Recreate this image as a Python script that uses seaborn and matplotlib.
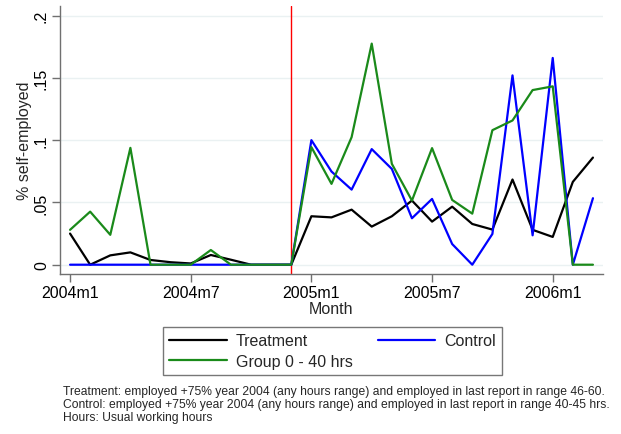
import matplotlib
matplotlib.use("Agg")
import matplotlib.pyplot as plt
import seaborn as sns
import pandas as pd
import numpy as np
from matplotlib.lines import Line2D

months = ["2004m1","2004m2","2004m3","2004m4","2004m5","2004m6","2004m7","2004m8","2004m9",
          "2004m10","2004m11","2004m12","2005m1","2005m2","2005m3","2005m4","2005m5","2005m6",
          "2005m7","2005m8","2005m9","2005m10","2005m11","2005m12","2006m1","2006m2","2006m3"]
treatment = [0.025, 0.0, 0.0075, 0.0099, 0.0038, 0.002, 0.001, 0.0078, 0.004, 0.0, 0.0, 0.0,
             0.0389, 0.038, 0.0442, 0.0306, 0.0389, 0.0515, 0.0346, 0.0466, 0.0327, 0.0282,
             0.0684, 0.028, 0.0223, 0.0665, 0.086]
control = [0.0, 0.0, 0.0, 0.0, 0.0, 0.0, 0.0, 0.0, 0.0, 0.0, 0.0, 0.0,
           0.100, 0.0748, 0.0603, 0.0928, 0.0769, 0.0373, 0.0528, 0.0166, 0.0, 0.0247,
           0.152, 0.0236, 0.166, 0.0, 0.0534]
group040 = [0.028, 0.0426, 0.024, 0.0938, 0.0, 0.0, 0.0, 0.0118, 0.0, 0.0, 0.0, 0.0,
            0.0944, 0.0649, 0.1024, 0.1775, 0.081, 0.0515, 0.0936, 0.052, 0.041, 0.108,
            0.1158, 0.1402, 0.1432, 0.0, 0.0]
series_names = ["Treatment", "Control", "Group 0 - 40 hrs"]
xtick_labels = ["2004m1", "2004m7", "2005m1", "2005m7", "2006m1"]
ytick_values = [0, 0.05, 0.1, 0.15, 0.2]
ytick_labels = ["0", ".05", ".1", ".15", ".2"]
treatment_start = "2004m12"
notes = ["Treatment: employed +75% year 2004 (any hours range) and employed in last report in range 46-60.",
         "Control: employed +75% year 2004 (any hours range) and employed in last report in range 40-45 hrs.",
         "Hours: Usual working hours"]

idx = np.arange(len(months))
df = pd.concat([
    pd.DataFrame({"t": idx, "value": treatment, "series": series_names[0]}),
    pd.DataFrame({"t": idx, "value": control, "series": series_names[1]}),
    pd.DataFrame({"t": idx, "value": group040, "series": series_names[2]}),
])

sns.set_style("white")
plt.rcParams["font.family"] = ["Liberation Sans", "DejaVu Sans"]

W, H = 621, 435
fig = plt.figure(figsize=(W / 100, H / 100), dpi=100)
left, right, top, bottom = 60, 603, 7, 275.3
ax = fig.add_axes([left / W, 1 - bottom / H, (right - left) / W, (bottom - top) / H])

palette = {"Treatment": "#000000", "Control": "#0000ff", "Group 0 - 40 hrs": "#1a8a1a"}
for yv in ytick_values:
    ax.axhline(yv, color="#eaf1f2", lw=1.0, zorder=0)
ax.axvline(months.index(treatment_start), color="#ff0000", lw=1.0, zorder=1)
sns.lineplot(data=df, x="t", y="value", hue="series", palette=palette, lw=1.6,
             ax=ax, legend=False, zorder=3)

FS = 11.5
ax.set_xlim(-0.5, 26.5)
ax.set_ylim(-0.0077, 0.2077)
ax.set_xticks([months.index(m) for m in xtick_labels])
ax.set_xticklabels(xtick_labels, fontsize=FS)
ax.set_yticks(ytick_values)
ax.set_yticklabels(ytick_labels, fontsize=FS, rotation=90, va="center")
for s in ["top", "right"]:
    ax.spines[s].set_visible(False)
for s in ["left", "bottom"]:
    ax.spines[s].set_color("#707070")
    ax.spines[s].set_linewidth(1.0)
ax.tick_params(axis="both", direction="out", length=6, width=1.0, color="#707070",
               left=True, bottom=True, labelcolor="black", pad=2)
ax.set_xlabel("Month", fontsize=FS, labelpad=0)
ax.xaxis.set_label_coords(0.5, -(310 - bottom) / (bottom - top), transform=ax.transAxes)
ax.xaxis.label.set_va("center")
ax.set_ylabel("% self-employed", fontsize=FS)
ax.yaxis.set_label_coords(-(left - 25) / (right - left), 0.5)
ax.yaxis.label.set_va("center")

handles = [Line2D([], [], color=palette[n], lw=1.6) for n in series_names]
order = [0, 2, 1]
leg = fig.legend([handles[i] for i in order], [series_names[i] for i in order],
                 loc="center", ncol=2,
                 bbox_to_anchor=(332.5 / W, 1 - 352 / H), fontsize=FS,
                 frameon=True, fancybox=False, handlelength=3.6, handletextpad=0.58,
                 columnspacing=1.55, labelspacing=0.35, borderpad=0.4, borderaxespad=0)
leg.get_frame().set_edgecolor("#555555")
leg.get_frame().set_linewidth(1.0)

for i, line in enumerate(notes):
    fig.text(62.7 / W, 1 - (391.7 + 13 * i) / H, line, fontsize=8.75, va="center", ha="left")

fig.savefig("out.png", dpi=100, facecolor="white")
